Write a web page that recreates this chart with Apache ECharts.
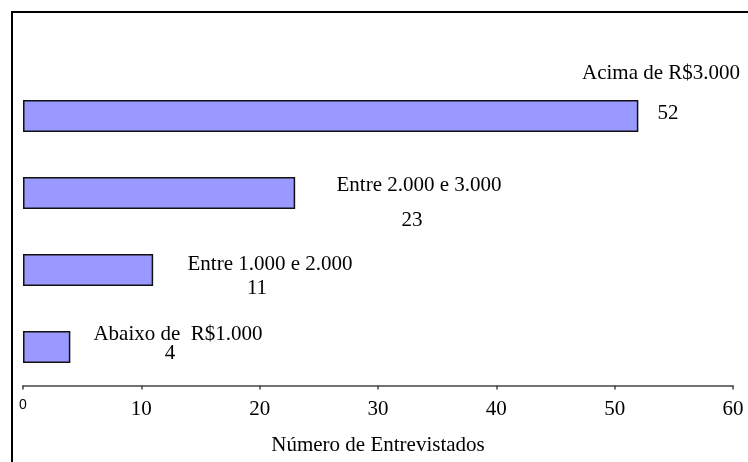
<!DOCTYPE html>
<html>
<head>
<meta charset="utf-8">
<script src="https://cdn.jsdelivr.net/npm/echarts@6/dist/echarts.min.js"></script>
<style>
  html, body { margin: 0; padding: 0; background: #fff; }
  #chart { width: 748px; height: 462px; }
</style>
</head>
<body>
<div id="chart"></div>
<script>
// faixas de renda (de baixo para cima)
var categories = ["Abaixo de  R$1.000", "Entre 1.000 e 2.000", "Entre 2.000 e 3.000", "Acima de R$3.000"];
var entrevistados = [4, 11, 23, 52];
var xTicks = [0, 10, 20, 30, 40, 50, 60];
var axisTitle = "Número de Entrevistados";

// posições dos rótulos, relativas ao canto superior esquerdo de cada barra
var nameOffsets = [[155, 3], [247, 10], [396, 8], [638, -27]];
var valueOffsets = [[147, 22], [234, 34], [389, 43], [645, 13]];

var serif = "'Liberation Serif', 'Times New Roman', serif";

var chart = echarts.init(document.getElementById("chart"));

var nameData = entrevistados.map(function (v, i) {
  return {
    value: v,
    label: { position: nameOffsets[i] }
  };
});
var valueData = entrevistados.map(function (v, i) {
  return {
    value: v,
    label: { position: valueOffsets[i] }
  };
});

chart.setOption({
  animation: false,
  textStyle: { fontFamily: serif },
  grid: {
    left: 23,
    right: 15,
    top: 77.5,
    bottom: 76.5,
    containLabel: false
  },
  graphic: [
    {
      // moldura (só esquerda e topo aparecem)
      type: "rect",
      shape: { x: 12, y: 12, width: 900, height: 600 },
      style: { fill: "none", stroke: "#000", lineWidth: 2 },
      silent: true
    }
  ],
  xAxis: {
    type: "value",
    min: xTicks[0],
    max: xTicks[xTicks.length - 1],
    interval: 10,
    splitLine: { show: false },
    axisLine: { show: true, lineStyle: { color: "#444", width: 1.5 } },
    axisTick: { show: true, length: 4, lineStyle: { color: "#444", width: 1.5 } },
    axisLabel: {
      margin: 13,
      color: "#000",
      fontSize: 21,
      fontFamily: serif,
      formatter: function (v) {
        return v === 0 ? "{z|0}" : String(v);
      },
      rich: {
        z: { fontFamily: "'Liberation Sans', Arial, sans-serif", fontSize: 14, color: "#000" }
      }
    },
    name: axisTitle,
    nameLocation: "middle",
    nameGap: 49,
    nameTextStyle: { color: "#000", fontSize: 21, fontFamily: serif }
  },
  yAxis: {
    type: "category",
    data: categories,
    show: false
  },
  series: [
    {
      name: "faixa",
      type: "bar",
      barWidth: 32,
      data: nameData,
      itemStyle: { color: "#9999ff", borderColor: "#111", borderWidth: 1.5 },
      label: {
        show: true,
        align: "center",
        verticalAlign: "middle",
        color: "#000",
        fontSize: 21,
        fontFamily: serif,
        formatter: function (p) { return p.name; }
      }
    },
    {
      name: "valor",
      type: "bar",
      barWidth: 32,
      barGap: "-100%",
      data: valueData,
      silent: true,
      itemStyle: { color: "rgba(0,0,0,0)" },
      label: {
        show: true,
        align: "center",
        verticalAlign: "middle",
        color: "#000",
        fontSize: 21,
        fontFamily: serif,
        formatter: function (p) { return p.value; }
      }
    }
  ]
});
</script>
</body>
</html>
